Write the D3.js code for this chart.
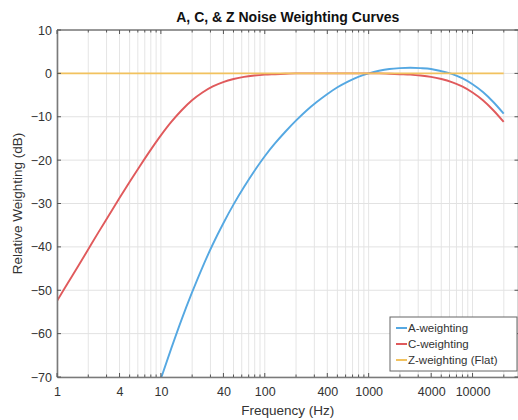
<!DOCTYPE html>
<html><head><meta charset="utf-8">
<script src="https://cdn.jsdelivr.net/npm/d3@7"></script>
<style>body{margin:0;background:#fff}svg{display:block}text{font-family:"Liberation Sans",Arial,Helvetica,sans-serif}</style>
</head><body><svg id="c" width="518" height="420"></svg>
<script>
// Data (1/3-octave frequencies)
const freqs = [1,1.259,1.585,1.995,2.512,3.162,3.981,5.012,6.31,7.943,10,12.59,15.85,19.95,25.12,31.62,39.81,50.12,63.1,79.43,100,125.9,158.5,199.5,251.2,316.2,398.1,501.2,631,794.3,1000,1259,1585,1995,2512,3162,3981,5012,6310,7943,10000,12589,15849,19953];
const aWeight = [null,null,null,null,null,null,null,null,null,-77.8,-70.4,-63.4,-56.7,-50.5,-44.7,-39.4,-34.6,-30.2,-26.2,-22.5,-19.1,-16.1,-13.4,-10.9,-8.6,-6.6,-4.8,-3.2,-1.9,-0.8,0,0.6,1.0,1.2,1.3,1.2,1.0,0.5,-0.1,-1.1,-2.5,-4.3,-6.6,-9.3];
const cWeight = [-52.5,-48.5,-44.6,-40.6,-36.6,-32.7,-28.8,-25.0,-21.3,-17.7,-14.3,-11.2,-8.5,-6.2,-4.4,-3.0,-2.0,-1.3,-0.8,-0.5,-0.3,-0.2,-0.1,0,0,0,0,0,0,0,0,0,-0.1,-0.2,-0.3,-0.5,-0.8,-1.3,-2.0,-3.0,-4.4,-6.2,-8.5,-11.2];
const zWeight = [0,0,0,0,0,0,0,0,0,0,0,0,0,0,0,0,0,0,0,0,0,0,0,0,0,0,0,0,0,0,0,0,0,0,0,0,0,0,0,0,0,0,0,0];
const seriesNames = ["A-weighting","C-weighting","Z-weighting (Flat)"];
const seriesColors = ["#55a8e2","#e05a5c","#f2c25e"];
const xTickValues = [1,4,10,40,100,400,1000,4000,10000];
const yTickValues = [-70,-60,-50,-40,-30,-20,-10,0,10];
const xLimits = [1, 27700];
const yLimits = [-70, 10];
const titleText = "A, C, & Z Noise Weighting Curves";
const xLabel = "Frequency (Hz)";
const yLabel = "Relative Weighting (dB)";

const svg = d3.select("#c");
const L = 57, R = 518.5, T = 30, B = 377;
const x = d3.scaleLog().domain(xLimits).range([L, R]);
const y = d3.scaleLinear().domain(yLimits).range([B, T]);

const minor = [];
for (let d = 1; d <= 10000; d *= 10) for (let k = 1; k <= 9; k++) { const v = d*k; if (v <= xLimits[1]) minor.push(v); }

const g = svg.append("g");
g.append("g").selectAll("line").data(minor).join("line")
  .attr("x1", d => x(d)).attr("x2", d => x(d)).attr("y1", T).attr("y2", B)
  .attr("stroke", "#e5e5e5").attr("stroke-width", 1);
g.append("g").selectAll("line").data(yTickValues).join("line")
  .attr("x1", L).attr("x2", R).attr("y1", d => y(d)).attr("y2", d => y(d))
  .attr("stroke", "#e2e2e2").attr("stroke-width", 1);

svg.append("clipPath").attr("id", "clip").append("rect").attr("x", L).attr("y", T).attr("width", R - L).attr("height", B - T);

const series = [aWeight, cWeight, zWeight];
const line = d3.line().defined(d => d[1] !== null).x(d => x(d[0])).y(d => y(d[1])).curve(d3.curveCatmullRom.alpha(0.5));
const lg = svg.append("g").attr("clip-path", "url(#clip)");
series.forEach((s, i) => {
  lg.append("path").datum(freqs.map((f, j) => [f, s[j]]))
    .attr("d", line).attr("fill", "none").attr("stroke", seriesColors[i]).attr("stroke-width", 1.9);
});

const axisColor = "#7a7a7a";
const xb = d3.axisBottom(x).tickValues(xTickValues).tickFormat(d3.format("d")).tickSizeInner(0).tickSizeOuter(0).tickPadding(10);
const xa = svg.append("g").attr("transform", `translate(0,${B})`).call(xb);
xa.select(".domain").attr("stroke", axisColor).attr("stroke-width", 1.6);
xa.selectAll("text").attr("font-size", 12.5).attr("fill", "#333");
const ya = svg.append("g").attr("transform", `translate(${L},0)`)
  .call(d3.axisLeft(y).tickValues(yTickValues).tickSizeInner(0).tickSizeOuter(0).tickPadding(5));
ya.select(".domain").attr("stroke", axisColor).attr("stroke-width", 1.6);
ya.selectAll("text").attr("font-size", 12.5).attr("fill", "#333");
svg.append("line").attr("x1", L).attr("x2", R).attr("y1", T).attr("y2", T).attr("stroke", axisColor).attr("stroke-width", 1.6);
svg.append("line").attr("x1", R).attr("x2", R).attr("y1", T).attr("y2", B).attr("stroke", axisColor).attr("stroke-width", 1.6);
const tk = svg.append("g").attr("stroke", "#555").attr("stroke-width", 1);
minor.forEach(v => {
  const len = xTickValues.includes(v) ? 4 : 2.5;
  tk.append("line").attr("x1", x(v)).attr("x2", x(v)).attr("y1", B).attr("y2", B - len);
  tk.append("line").attr("x1", x(v)).attr("x2", x(v)).attr("y1", T).attr("y2", T + len);
});
yTickValues.forEach(v => {
  tk.append("line").attr("x1", L).attr("x2", L + 4).attr("y1", y(v)).attr("y2", y(v));
  tk.append("line").attr("x1", R).attr("x2", R - 4).attr("y1", y(v)).attr("y2", y(v));
});

svg.append("text").attr("x", (L + R) / 2).attr("y", 22).attr("text-anchor", "middle")
  .attr("font-size", 14).attr("font-weight", "bold").attr("fill", "#111").text(titleText);
svg.append("text").attr("x", (L + R) / 2).attr("y", 415).attr("text-anchor", "middle")
  .attr("font-size", 13.5).attr("fill", "#333").text(xLabel);
svg.append("text").attr("transform", `translate(22,${(T + B) / 2}) rotate(-90)`).attr("text-anchor", "middle")
  .attr("font-size", 13.5).attr("fill", "#333").text(yLabel);

const lgX = 390, lgY = 317, lgW = 127, lgH = 54;
const leg = svg.append("g");
leg.append("rect").attr("x", lgX).attr("y", lgY).attr("width", lgW).attr("height", lgH)
  .attr("fill", "#fff").attr("stroke", "#666").attr("stroke-width", 1);
seriesNames.forEach((n, i) => {
  const yy = lgY + 11 + i * 16;
  leg.append("line").attr("x1", lgX + 6).attr("x2", lgX + 17).attr("y1", yy).attr("y2", yy)
    .attr("stroke", seriesColors[i]).attr("stroke-width", 2);
  leg.append("text").attr("x", lgX + 18).attr("y", yy + 4).attr("font-size", 11.5).attr("fill", "#333").text(n);
});
</script></body></html>
